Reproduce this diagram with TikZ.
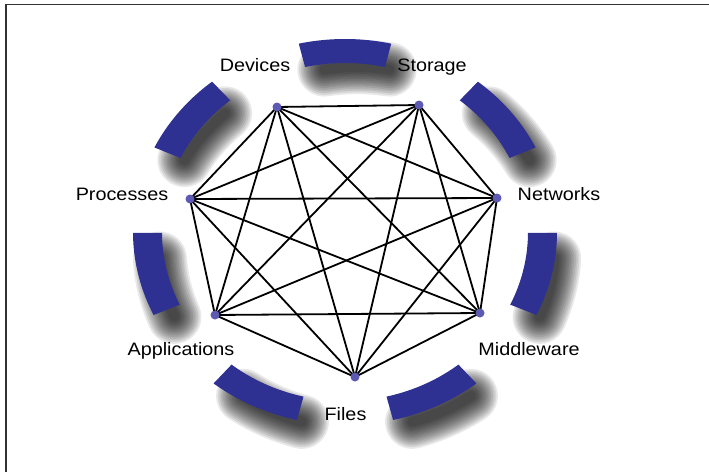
\documentclass[tikz,border=0pt]{standalone}
\usepackage{fontspec}
\setmainfont[FakeStretch=1.1]{Liberation Sans}
\definecolor{bandblue}{RGB}{46,49,146}
\definecolor{dotblue}{RGB}{92,90,178}
\definecolor{framegray}{RGB}{50,50,50}
\pgfdeclarelayer{bg}
\pgfsetlayers{bg,main}
\begin{document}
\begin{tikzpicture}[x=1pt,y=-1pt,
  vtx/.style={circle,fill=dotblue,draw=none,inner sep=0pt,minimum size=9pt},
  lbl/.style={font=\fontsize{18}{20}\selectfont,inner sep=0pt,anchor=base},
  edge/.style={line width=1.8pt,black},
  band/.style={fill=bandblue,draw=none},
  shadowlayer/.style={draw=black,line cap=round,opacity=0.085},
  framestyle/.style={draw=framegray,line width=1.6pt}]
\useasboundingbox (0,0) rectangle (709,471);
\draw[framestyle] (6,480) -- (6,4.5) -- (715,4.5);

% vertices
\node[vtx] (d) at (277,107) {};
\node[vtx] (s) at (419,105) {};
\node[vtx] (n) at (497,198) {};
\node[vtx] (m) at (480,313) {};
\node[vtx] (f) at (355,377) {};
\node[vtx] (a) at (215,315) {};
\node[vtx] (p) at (190,199) {};

\begin{pgfonlayer}{bg}
  % shadows
  \foreach \c in {90,141.43,192.86,244.29,295.71,347.14,38.57}{
    \pgfmathsetmacro\sa{\c-9.5}
    \pgfmathsetmacro\sb{\c+9.5}
    \foreach \i in {0,...,13}{
      \pgfmathsetmacro\lw{10+3.4*\i}
      \draw[shadowlayer,line width=\lw pt] plot[domain=\sa:\sb,samples=25]
        ({357+197.5*cos(\x)},{248-181*sin(\x)});
    }
  }
  % blue bands
  \foreach \c in {90,141.43,192.86,244.29,295.71,347.14,38.57}{
    \pgfmathsetmacro\ba{\c-12.6}
    \pgfmathsetmacro\bb{\c+12.6}
    \fill[band] plot[domain=\ba:\bb,samples=30] ({345+212*cos(\x)},{232-193*sin(\x)})
      -- plot[domain=\bb:\ba,samples=30] ({345+183*cos(\x)},{232-169*sin(\x)}) -- cycle;
  }
  % complete graph
  \foreach \u/\v in {d/s,d/n,d/m,d/f,d/a,d/p,s/n,s/m,s/f,s/a,s/p,n/m,n/f,n/a,n/p,m/f,m/a,m/p,f/a,f/p,a/p}{
    \draw[edge] (\u.center) -- (\v.center);
  }
\end{pgfonlayer}

% labels
\node[lbl] (ld) at (255,71) {Devices};
\node[lbl] (ls) at (432,71) {Storage};
\node[lbl] (lp) at (122,200) {Processes};
\node[lbl] (ln) at (559,200.5) {Networks};
\node[lbl] (la) at (181,355) {Applications};
\node[lbl] (lm) at (529,355) {Middleware};
\node[lbl] (lf) at (345.5,420) {Files};
\end{tikzpicture}
\end{document}
